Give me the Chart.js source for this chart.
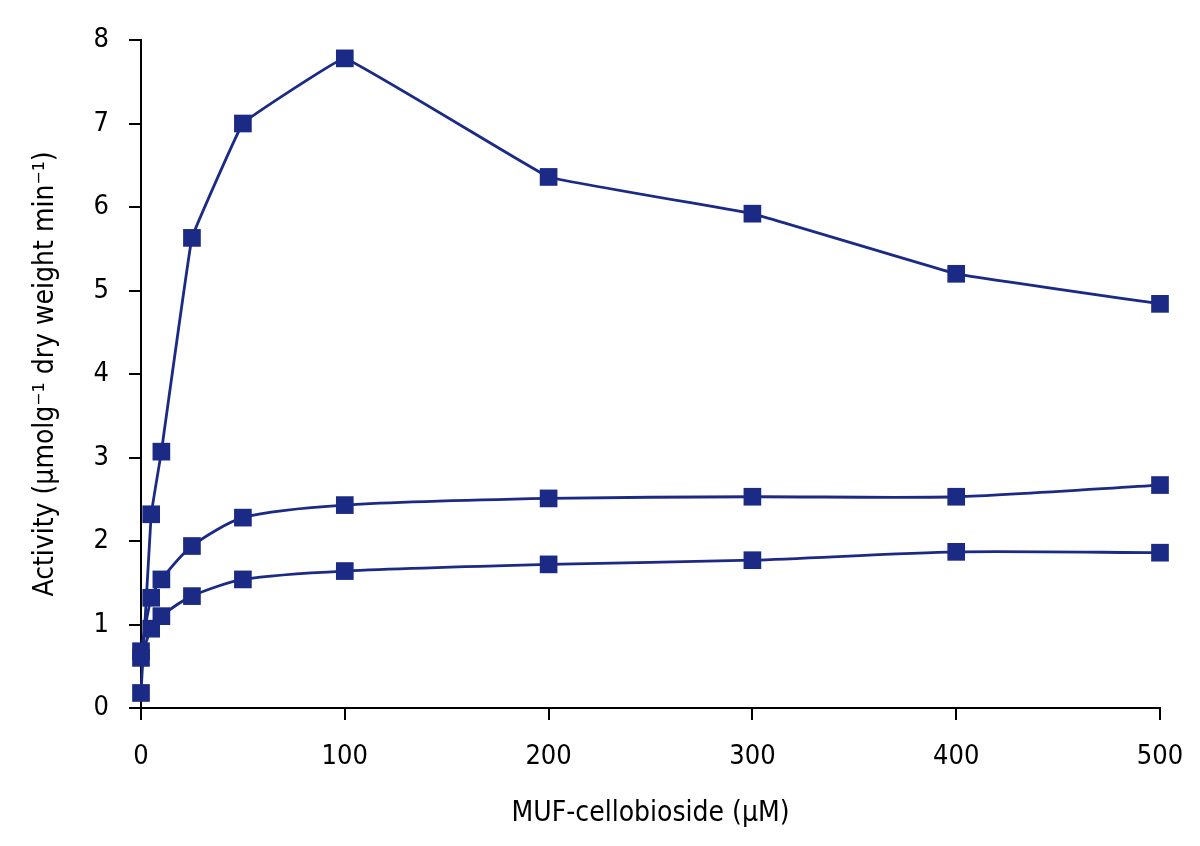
<!DOCTYPE html>
<html>
<head>
<meta charset="utf-8">
<script src="https://cdn.jsdelivr.net/npm/chart.js@4/dist/chart.umd.min.js"></script>
<style>
  html, body { margin: 0; padding: 0; background: #fff; }
  #wrap { width: 1200px; height: 846px; }
</style>
</head>
<body>
<div id="wrap"><canvas id="activity"></canvas></div>
<script>
// substrate concentrations (µM)
const conc = [0, 5, 10, 25, 50, 100, 200, 300, 400, 500]
// activity, three samples
const seriesHigh = [0.18, 2.32, 3.07, 5.63, 7.0, 7.78, 6.36, 5.92, 5.2, 4.84]
const seriesMid = [0.68, 1.32, 1.54, 1.94, 2.28, 2.43, 2.51, 2.53, 2.53, 2.67]
const seriesLow = [0.6, 0.95, 1.1, 1.34, 1.54, 1.64, 1.72, 1.77, 1.87, 1.86]

const xTicks = [0, 100, 200, 300, 400, 500]
const yTicks = [0, 1, 2, 3, 4, 5, 6, 7, 8]

const navy = '#1b2a84'
const font = "'DejaVu Sans Condensed', 'Liberation Sans', sans-serif"

function pts(values) {
    return conc.map((c, i) => ({ x: c, y: values[i] }))
}

function line(values, tension) {
    return {
        data: pts(values),
        borderColor: navy,
        backgroundColor: navy,
        borderWidth: 2.8,
        pointStyle: 'rect',
        pointRadius: 12.5,
        pointBorderWidth: 0,
        tension: tension,
        clip: false
    }
}

const ctx = document.getElementById('activity').getContext('2d')
new Chart(ctx, {
    type: 'line',
    data: {
        datasets: [
            line(seriesHigh, 0.05),
            line(seriesMid, 0.25),
            line(seriesLow, 0.25)
        ]
    },
    options: {
        responsive: true,
        maintainAspectRatio: false,
        animation: false,
        layout: { padding: { top: 40, right: 40, left: 0, bottom: 0 } },
        plugins: { legend: { display: false }, tooltip: { enabled: false } },
        scales: {
            x: {
                type: 'linear',
                min: 0,
                max: 500,
                afterBuildTicks: s => { s.ticks = xTicks.map(v => ({ value: v })) },
                afterFit: s => { s.height = 138; s.paddingLeft = 0; s.paddingRight = 0 },
                border: { display: true, color: '#000', width: 2 },
                grid: { drawOnChartArea: false, drawTicks: true, tickLength: 12, color: '#000', lineWidth: 2 },
                ticks: { color: '#000', padding: 21, maxRotation: 0, font: { family: font, size: 27 } },
                title: {
                    display: true,
                    text: 'MUF-cellobioside (μM)',
                    color: '#000',
                    font: { family: font, size: 28 },
                    padding: { top: 15, bottom: 15 }
                }
            },
            y: {
                min: 0,
                max: 8,
                afterBuildTicks: s => { s.ticks = yTicks.map(v => ({ value: v })) },
                afterFit: s => { s.width = 141 },
                border: { display: true, color: '#000', width: 2 },
                grid: { drawOnChartArea: false, drawTicks: true, tickLength: 12, color: '#000', lineWidth: 2 },
                ticks: { color: '#000', padding: 20, font: { family: font, size: 27 } },
                title: {
                    display: true,
                    text: 'Activity (μmolg⁻¹ dry weight min⁻¹)',
                    color: '#000',
                    font: { family: font, size: 28 },
                    padding: { top: 29, bottom: 29 }
                }
            }
        }
    }
})
console.log("Chart.js initialized")
</script>
</body>
</html>
